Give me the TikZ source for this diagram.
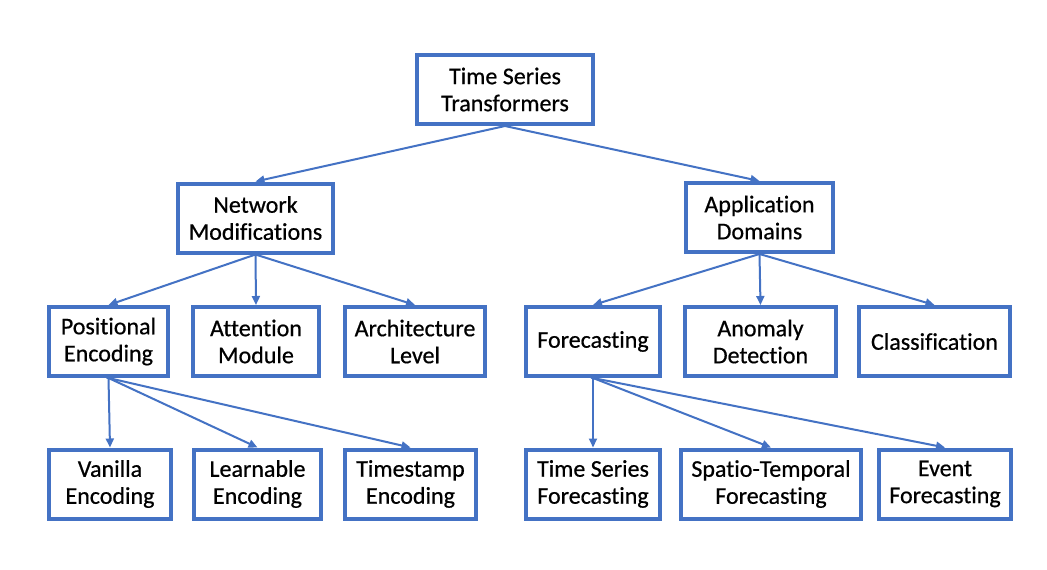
\documentclass[tikz,border=0pt]{standalone}
\usepackage{fontspec}
\setmainfont{Carlito}[Ligatures=NoCommon, FakeBold=0.6]
\usetikzlibrary{arrows.meta}
\definecolor{boxblue}{HTML}{4472C4}
\begin{document}
\begin{tikzpicture}[x=1pt,y=-1pt,
  box/.style={draw=boxblue, line width=4pt, fill=white, minimum height=69pt,
    inner sep=0pt, outer sep=2pt, align=center,
    font=\fontsize{24}{27}\selectfont},
  conn/.style={draw=boxblue, line width=2pt,
    -{Triangle[length=9pt,width=8pt]}, shorten <=-2pt}
]
\useasboundingbox[fill=white] (0,0) rectangle (1047,570);
% row 1
\node[box, minimum width=176pt] (root) at (505,89.5) {Time Series\\Transformers};
% row 2
\node[box, minimum width=155pt] (net) at (255.5,218) {Network\\Modifications};
\node[box, minimum width=147pt] (app) at (759.5,217.5) {Application\\Domains};
% row 3
\node[box, minimum width=119pt] (pos) at (108.5,341.5) {Positional\\Encoding};
\node[box, minimum width=126pt] (att) at (256,341.5) {Attention\\Module};
\node[box, minimum width=140pt] (arc) at (415,341.5) {Architecture\\Level};
\node[box, minimum width=134pt] (fc) at (593,341.5) {Forecasting};
\node[box, minimum width=151pt] (ano) at (760.5,341.5) {Anomaly\\Detection};
\node[box, minimum width=151pt] (cls) at (934.5,341.5) {Classification};
% row 4
\node[box, minimum width=122pt] (van) at (110,484) {Vanilla\\Encoding};
\node[box, minimum width=127pt] (lea) at (257.5,484) {Learnable\\Encoding};
\node[box, minimum width=131pt] (tim) at (410.5,484) {Timestamp\\Encoding};
\node[box, minimum width=134pt] (tsf) at (593,484) {Time Series\\Forecasting};
\node[box, minimum width=180pt] (stf) at (771,484) {Spatio-Temporal\\Forecasting};
\node[box, minimum width=132pt] (evf) at (945,484) {Event\\Forecasting};
% connectors
\draw[conn] (root.south) -- (net.north);
\draw[conn] (root.south) -- (app.north);
\draw[conn] (net.south) -- (pos.north);
\draw[conn] (net.south) -- (att.north);
\draw[conn] (net.south) -- (arc.north);
\draw[conn] (app.south) -- (fc.north);
\draw[conn] (app.south) -- (ano.north);
\draw[conn] (app.south) -- (cls.north);
\draw[conn] (pos.south) -- (van.north);
\draw[conn] (pos.south) -- (lea.north);
\draw[conn] (pos.south) -- (tim.north);
\draw[conn] (fc.south) -- (tsf.north);
\draw[conn] (fc.south) -- (stf.north);
\draw[conn] (fc.south) -- (evf.north);
\end{tikzpicture}
\end{document}
